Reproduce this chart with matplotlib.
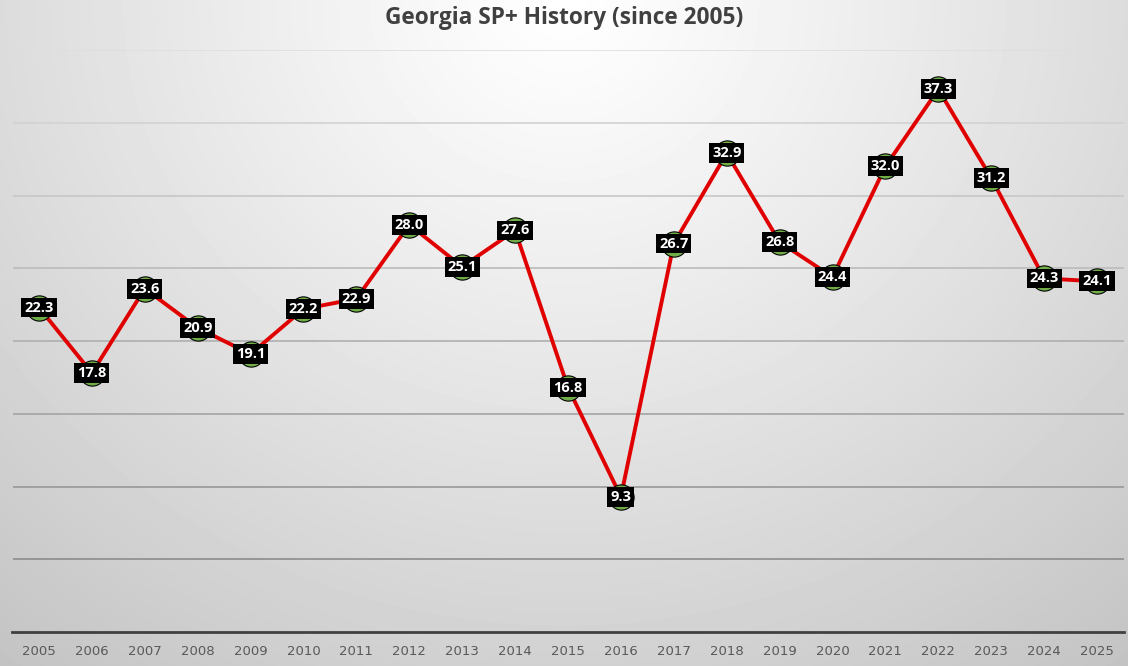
import matplotlib
matplotlib.use('Agg')
import matplotlib.pyplot as plt
import numpy as np

years = ['2005', '2006', '2007', '2008', '2009', '2010', '2011', '2012', '2013', '2014',
         '2015', '2016', '2017', '2018', '2019', '2020', '2021', '2022', '2023', '2024', '2025']
sp_plus = [22.3, 17.8, 23.6, 20.9, 19.1, 22.2, 22.9, 28.0, 25.1, 27.6,
           16.8, 9.3, 26.7, 32.9, 26.8, 24.4, 32.0, 37.3, 31.2, 24.3, 24.1]

W, H = 1128, 666
fig = plt.figure(figsize=(W / 100, H / 100), dpi=100)

# radial gradient background (white near top centre, grey toward corners)
bg = fig.add_axes([0, 0, 1, 1], zorder=-10)
yy, xx = np.mgrid[0:H, 0:W]
d = np.sqrt(((xx - W * 0.5) / (W * 0.7)) ** 2 + (yy / (H * 1.1)) ** 2)
shade = 1.0 - 0.2 * np.clip(d, 0, 1.2) ** 1.1
bg.imshow(shade, cmap='gray', vmin=0, vmax=1, aspect='auto', interpolation='bilinear')
bg.axis('off')

left, right = 12.5 / W, 1123.5 / W
bottom, top = (H - 632) / H, (H - 50) / H
ax = fig.add_axes([left, bottom, right - left, top - bottom])
ax.patch.set_alpha(0)

x = np.arange(len(years))
ax.set_xlim(-0.5, len(years) - 0.5)
ax.set_ylim(0, 40)

# gridlines, darker toward the bottom
grid_vals = np.arange(5, 41, 5)
for g in grid_vals:
    t = (g - 5) / 35
    c = 0.55 + 0.32 * t
    ax.axhline(g, color=(c, c, c), linewidth=1.2, zorder=1)

ax.set_yticks([])
ax.tick_params(axis='x', bottom=False, labelsize=9.5, labelcolor='#595959', pad=6)
ax.set_xticks(x)
ax.set_xticklabels(years)
for s in ['top', 'left', 'right']:
    ax.spines[s].set_visible(False)
ax.spines['bottom'].set_color('#404040')
ax.spines['bottom'].set_linewidth(2)

ax.plot(x, sp_plus, color='#e00000', linewidth=2.8, zorder=3)
ax.scatter(x, sp_plus, s=330, color='#70ad47', edgecolors='black', linewidths=0.8, zorder=4)

for xi, v in zip(x, sp_plus):
    ax.text(xi, v, f'{v:.1f}', ha='center', va='center', color='white', fontsize=10.5,
            fontweight='bold', family='Open Sans', zorder=5,
            bbox=dict(boxstyle='square,pad=0.2', facecolor='black', edgecolor='none'))

fig.text(0.5, 1 - 18 / H, 'Georgia SP+ History (since 2005)', ha='center', va='center',
         fontsize=16.3, fontweight='bold', color='#404040', family='Open Sans')

fig.savefig('out.png', dpi=100)
